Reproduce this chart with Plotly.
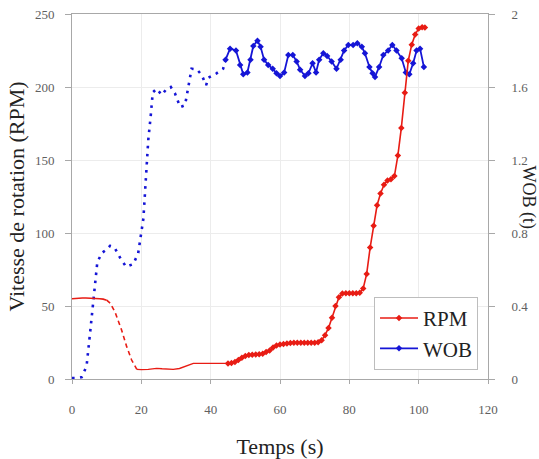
import plotly.graph_objects as go

# ---- RPM (left axis) ----
rpm_x_solid1 = [0, 1, 2, 3, 4, 5, 6, 7, 8, 9, 10]
rpm_y_solid1 = [55, 55.3, 55.5, 55.5, 55.5, 55.5, 55.3, 55.2, 55, 54.7, 54]
rpm_x_dash = [10, 11, 12.4, 14.3, 15.8, 17.2, 18.7]
rpm_y_dash = [54, 52, 46, 33.6, 22, 13, 6.6]
rpm_x_solid2 = [18.7, 20, 22, 24.4, 26, 29.2, 31, 33, 35, 38, 41, 45]
rpm_y_solid2 = [6.6, 6.4, 6.6, 7.3, 7.0, 6.6, 7.2, 9.0, 10.7, 10.7, 10.7, 10.7]
rpm_x_mark = [45, 46, 47, 48, 49, 50, 51, 52, 53, 54, 55, 56, 57, 58, 59, 60,
              61, 62, 63, 64, 65, 66, 67, 68, 69, 70, 71, 72, 73, 74, 75, 76,
              77, 78, 79, 80, 81, 82, 83, 84, 85, 86, 87, 88, 89, 90, 91, 92,
              93, 94, 95, 96, 97, 98, 99, 100, 101, 101.8]
rpm_y_mark = [10.7, 11, 11.6, 13, 14.5, 15.8, 16.4, 16.6, 16.8, 17, 17.3, 18.5,
              19.6, 21.5, 23, 23.6, 24, 24.3, 24.6, 24.8, 24.8, 24.8, 24.8, 24.8,
              24.8, 24.9, 25.2, 26.5, 30, 35, 42, 50, 56, 58.5, 58.8, 58.8, 58.8,
              58.8, 59, 62, 72, 90, 105, 119, 127, 133, 136, 136.8, 139, 153,
              172, 196, 218, 229, 236, 240, 241, 240.8]

# ---- WOB (right axis) ----
wob_x_dot = [0, 1.5, 2.8, 4.2, 5.2, 6.3, 7.3, 8.6, 10, 11, 12.4, 14, 15.6, 17.7,
             19.1, 20.6, 21.3, 22, 22.7, 23.3, 24.4, 25.9, 27.3, 28.5, 29.7,
             31.2, 32.6, 33.6, 34.5, 36, 37.4, 38.7, 39.3, 41.7, 43.6, 44.3]
wob_y_dot = [0.005, 0.005, 0.01, 0.07, 0.25, 0.45, 0.64, 0.69, 0.71, 0.73, 0.716,
             0.66, 0.615, 0.63, 0.69, 0.88, 1.09, 1.31, 1.44, 1.57, 1.59, 1.556,
             1.59, 1.60, 1.565, 1.49, 1.50, 1.60, 1.70, 1.697, 1.666, 1.61, 1.65,
             1.675, 1.70, 1.75]
wob_x_mark = [44.3, 45.6, 47.3, 48.5, 49.4, 50.6, 51.5, 52.3, 53.5, 54.4, 55.4,
              56.6, 57.9, 59, 60, 61.2, 62.4, 63.7, 64.8, 65.8, 67.2, 68.2, 69.4,
              70.4, 71.3, 72.5, 73.6, 74.9, 76.3, 77.5, 78.5, 79.7, 81.1, 82.3,
              83.6, 84.5, 85.8, 86.7, 87.4, 88.6, 89.8, 91.2, 92.4, 93.6, 95.1,
              96.3, 97.3, 98.4, 99.4, 100.4, 101.5]
wob_y_mark = [1.75, 1.81, 1.80, 1.72, 1.67, 1.68, 1.75, 1.825, 1.854, 1.82, 1.75,
              1.72, 1.70, 1.675, 1.66, 1.68, 1.775, 1.775, 1.74, 1.695, 1.66,
              1.675, 1.73, 1.68, 1.75, 1.785, 1.77, 1.74, 1.70, 1.75, 1.80, 1.83,
              1.83, 1.84, 1.82, 1.785, 1.71, 1.675, 1.655, 1.71, 1.775, 1.80,
              1.83, 1.80, 1.757, 1.68, 1.67, 1.73, 1.80, 1.81, 1.71]

x_ticks = [0, 20, 40, 60, 80, 100, 120]
rpm_ticks = [0, 50, 100, 150, 200, 250]
wob_ticks = [0, 0.4, 0.8, 1.2, 1.6, 2]
wob_tick_text = ["0", "0.4", "0.8", "1.2", "1.6", "2"]

RED = "#e81c14"
BLUE = "#1515d6"
FONT = "Liberation Serif"
GRID = "#ececec"
AXIS = "#a8a8a8"
TITLE_FONT = dict(family=FONT, size=22, color="#222222")

fig = go.Figure()

# RPM traces on y2 (left, drawn on top)
fig.add_trace(go.Scatter(x=rpm_x_solid1, y=rpm_y_solid1, mode="lines", yaxis="y2",
                         line=dict(color=RED, width=1.6), showlegend=False))
fig.add_trace(go.Scatter(x=rpm_x_dash, y=rpm_y_dash, mode="lines", yaxis="y2",
                         line=dict(color=RED, width=1.6, dash="4.5px,3.5px"), showlegend=False))
fig.add_trace(go.Scatter(x=rpm_x_solid2, y=rpm_y_solid2, mode="lines", yaxis="y2",
                         line=dict(color=RED, width=1.4), showlegend=False))
fig.add_trace(go.Scatter(x=rpm_x_mark, y=rpm_y_mark, mode="lines+markers", yaxis="y2",
                         name="RPM", line=dict(color=RED, width=1.6),
                         marker=dict(symbol="diamond", size=5, color=RED)))

# WOB traces on y (right)
fig.add_trace(go.Scatter(x=wob_x_dot, y=wob_y_dot, mode="lines", yaxis="y",
                         line=dict(color=BLUE, width=2.6, dash="2.6px,5.5px"), showlegend=False))
fig.add_trace(go.Scatter(x=wob_x_mark, y=wob_y_mark, mode="lines+markers", yaxis="y",
                         name="WOB", line=dict(color=BLUE, width=1.8),
                         marker=dict(symbol="diamond", size=5, color=BLUE)))

tickfont = dict(family=FONT, size=13, color="#606060")

fig.update_layout(
    width=539, height=459,
    margin=dict(l=72, r=51, t=14, b=80, autoexpand=False),
    paper_bgcolor="white", plot_bgcolor="white",
    font=dict(family=FONT, color="#222222"),
    xaxis=dict(range=[0, 120], tickvals=x_ticks, showgrid=True, gridcolor=GRID,
               zeroline=False, showline=True, linecolor=AXIS, mirror=True,
               ticks="outside", ticklen=4, tickcolor=AXIS, tickfont=tickfont,
               ticklabelstandoff=14, automargin=False, ticklabeloverflow="allow",
               title=dict(text="Temps (s)", font=TITLE_FONT, standoff=23)),
    yaxis=dict(range=[0, 2], tickvals=wob_ticks, ticktext=wob_tick_text,
               side="right", showgrid=True, gridcolor=GRID, zeroline=False,
               showline=True, linecolor=AXIS, ticks="outside", ticklen=6,
               tickcolor=AXIS, tickfont=tickfont, ticklabelstandoff=14,
               automargin=False, ticklabeloverflow="allow"),
    yaxis2=dict(range=[0, 250], tickvals=rpm_ticks, side="left", overlaying="y",
                showgrid=False, zeroline=False, showline=True, linecolor=AXIS,
                ticks="outside", ticklen=6, tickcolor=AXIS, tickfont=tickfont,
                ticklabelstandoff=8, automargin=False, ticklabeloverflow="allow",
                title=dict(text="Vitesse de rotation (RPM)", font=TITLE_FONT, standoff=4)),
    legend=dict(x=0.976, y=0.025, xanchor="right", yanchor="bottom",
                bgcolor="white", bordercolor="#bdbdbd", borderwidth=1,
                font=dict(family=FONT, size=21, color="#222222"),
                tracegroupgap=0, itemwidth=38),
    annotations=[dict(text="WOB (t)", textangle=90, xref="paper", yref="paper",
                      x=1.0, y=0.5, xanchor="center", xshift=40, showarrow=False,
                      font=dict(family=FONT, size=18, color="#222222"))],
)

# Remove the default page margin so the figure fills the 539x459 window exactly.
fig.write_html(
    "out.html",
    config={"displayModeBar": False},
    post_script="document.body.style.margin='0';document.body.style.overflow='hidden';",
)
